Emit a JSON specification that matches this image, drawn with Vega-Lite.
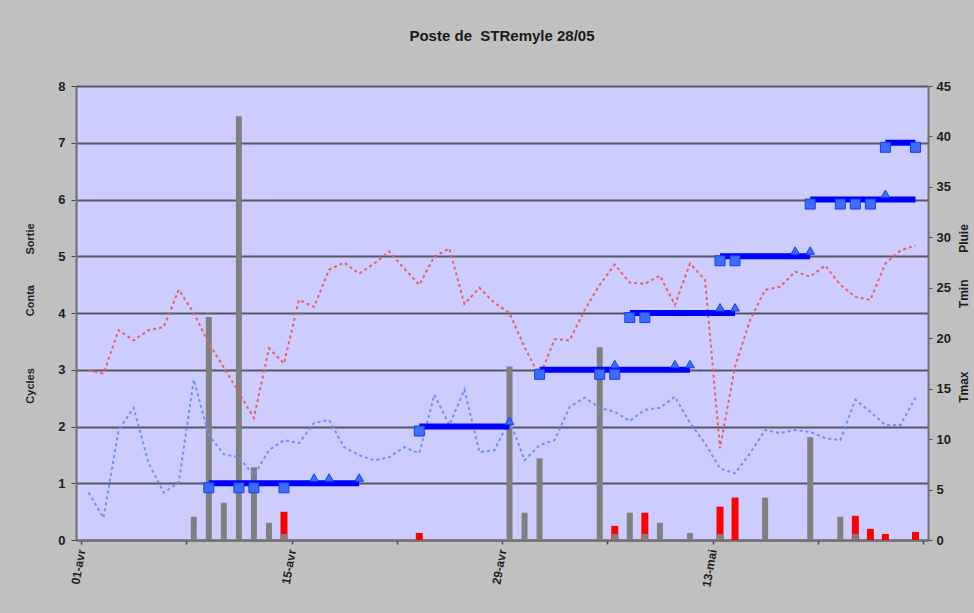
{
  "$schema": "https://vega.github.io/schema/vega-lite/v6.json",
  "width": 852,
  "height": 454,
  "autosize": {"type": "none"},
  "padding": {"left": 76, "top": 86, "right": 46, "bottom": 73},
  "background": "#c0c0c0",
  "config": {
    "view": {"fill": "#ccccff", "stroke": null},
    "font": "Liberation Sans",
    "axis": {"labelFont": "Liberation Sans", "titleFont": "Liberation Sans", "domainColor": "#6e6e6e", "domainWidth": 2, "tickColor": "#4a4a4a", "labelColor": "#1e1e1e", "titleColor": "#1e1e1e"}
  },
  "title": {"text": "Poste de\u00a0 STRemyle 28/05", "fontSize": 15, "fontWeight": "bold", "font": "Liberation Sans", "color": "#1a1a1a", "anchor": "middle", "offset": 36},
  "datasets": {
    "meteo": [
      {"date": "2010-04-01T12:00:00", "tmax": 16.8, "tmin": 4.7, "pluie": null, "rouge": null},
      {"date": "2010-04-02T12:00:00", "tmax": 16.5, "tmin": 2.2, "pluie": null, "rouge": null},
      {"date": "2010-04-03T12:00:00", "tmax": 20.8, "tmin": 10.9, "pluie": null, "rouge": null},
      {"date": "2010-04-04T12:00:00", "tmax": 19.8, "tmin": 13.1, "pluie": null, "rouge": null},
      {"date": "2010-04-05T12:00:00", "tmax": 20.8, "tmin": 7.6, "pluie": null, "rouge": null},
      {"date": "2010-04-06T12:00:00", "tmax": 21.1, "tmin": 4.7, "pluie": null, "rouge": null},
      {"date": "2010-04-07T12:00:00", "tmax": 24.8, "tmin": 5.7, "pluie": null, "rouge": null},
      {"date": "2010-04-08T12:00:00", "tmax": 22.5, "tmin": 15.9, "pluie": 2.3, "rouge": null},
      {"date": "2010-04-09T12:00:00", "tmax": 19.5, "tmin": 10.4, "pluie": 22.1, "rouge": null},
      {"date": "2010-04-10T12:00:00", "tmax": 17.1, "tmin": 8.5, "pluie": 3.7, "rouge": null},
      {"date": "2010-04-11T12:00:00", "tmax": 14.6, "tmin": 8.2, "pluie": 42.0, "rouge": null},
      {"date": "2010-04-12T12:00:00", "tmax": 12.1, "tmin": 6.4, "pluie": 7.2, "rouge": null},
      {"date": "2010-04-13T12:00:00", "tmax": 19.0, "tmin": 8.9, "pluie": 1.7, "rouge": null},
      {"date": "2010-04-14T12:00:00", "tmax": 17.5, "tmin": 9.9, "pluie": 0.6, "rouge": 2.8},
      {"date": "2010-04-15T12:00:00", "tmax": 23.8, "tmin": 9.6, "pluie": null, "rouge": null},
      {"date": "2010-04-16T12:00:00", "tmax": 23.1, "tmin": 11.6, "pluie": null, "rouge": null},
      {"date": "2010-04-17T12:00:00", "tmax": 26.8, "tmin": 11.9, "pluie": null, "rouge": null},
      {"date": "2010-04-18T12:00:00", "tmax": 27.5, "tmin": 9.2, "pluie": null, "rouge": null},
      {"date": "2010-04-19T12:00:00", "tmax": 26.4, "tmin": 8.4, "pluie": null, "rouge": null},
      {"date": "2010-04-20T12:00:00", "tmax": 27.4, "tmin": 7.9, "pluie": null, "rouge": null},
      {"date": "2010-04-21T12:00:00", "tmax": 28.6, "tmin": 8.2, "pluie": null, "rouge": null},
      {"date": "2010-04-22T12:00:00", "tmax": 26.9, "tmin": 9.2, "pluie": null, "rouge": null},
      {"date": "2010-04-23T12:00:00", "tmax": 25.3, "tmin": 8.6, "pluie": null, "rouge": 0.7},
      {"date": "2010-04-24T12:00:00", "tmax": 28.1, "tmin": 14.4, "pluie": null, "rouge": null},
      {"date": "2010-04-25T12:00:00", "tmax": 28.9, "tmin": 11.4, "pluie": null, "rouge": null},
      {"date": "2010-04-26T12:00:00", "tmax": 23.4, "tmin": 14.9, "pluie": null, "rouge": null},
      {"date": "2010-04-27T12:00:00", "tmax": 25.0, "tmin": 8.7, "pluie": null, "rouge": null},
      {"date": "2010-04-28T12:00:00", "tmax": 23.5, "tmin": 8.9, "pluie": null, "rouge": null},
      {"date": "2010-04-29T12:00:00", "tmax": 22.5, "tmin": 11.9, "pluie": 17.2, "rouge": null},
      {"date": "2010-04-30T12:00:00", "tmax": 19.1, "tmin": 7.9, "pluie": 2.7, "rouge": null},
      {"date": "2010-05-01T12:00:00", "tmax": 16.2, "tmin": 9.4, "pluie": 8.1, "rouge": null},
      {"date": "2010-05-02T12:00:00", "tmax": 19.9, "tmin": 9.9, "pluie": null, "rouge": null},
      {"date": "2010-05-03T12:00:00", "tmax": 19.8, "tmin": 13.2, "pluie": null, "rouge": null},
      {"date": "2010-05-04T12:00:00", "tmax": 22.8, "tmin": 14.1, "pluie": null, "rouge": null},
      {"date": "2010-05-05T12:00:00", "tmax": 25.3, "tmin": 13.1, "pluie": 19.1, "rouge": null},
      {"date": "2010-05-06T12:00:00", "tmax": 27.3, "tmin": 12.7, "pluie": 0.6, "rouge": 1.4},
      {"date": "2010-05-07T12:00:00", "tmax": 25.5, "tmin": 11.8, "pluie": 2.7, "rouge": null},
      {"date": "2010-05-08T12:00:00", "tmax": 25.4, "tmin": 12.9, "pluie": 0.6, "rouge": 2.7},
      {"date": "2010-05-09T12:00:00", "tmax": 26.2, "tmin": 13.1, "pluie": 1.7, "rouge": null},
      {"date": "2010-05-10T12:00:00", "tmax": 23.3, "tmin": 14.2, "pluie": null, "rouge": null},
      {"date": "2010-05-11T12:00:00", "tmax": 27.4, "tmin": 11.6, "pluie": 0.7, "rouge": null},
      {"date": "2010-05-12T12:00:00", "tmax": 25.8, "tmin": 9.6, "pluie": null, "rouge": null},
      {"date": "2010-05-13T12:00:00", "tmax": 9.1, "tmin": 7.1, "pluie": 0.6, "rouge": 3.3},
      {"date": "2010-05-14T12:00:00", "tmax": 17.2, "tmin": 6.6, "pluie": null, "rouge": 4.2},
      {"date": "2010-05-15T12:00:00", "tmax": 21.8, "tmin": 8.6, "pluie": null, "rouge": null},
      {"date": "2010-05-16T12:00:00", "tmax": 24.8, "tmin": 10.9, "pluie": 4.2, "rouge": null},
      {"date": "2010-05-17T12:00:00", "tmax": 25.1, "tmin": 10.6, "pluie": null, "rouge": null},
      {"date": "2010-05-18T12:00:00", "tmax": 26.6, "tmin": 10.9, "pluie": null, "rouge": null},
      {"date": "2010-05-19T12:00:00", "tmax": 26.1, "tmin": 10.7, "pluie": 10.2, "rouge": null},
      {"date": "2010-05-20T12:00:00", "tmax": 27.2, "tmin": 10.1, "pluie": null, "rouge": null},
      {"date": "2010-05-21T12:00:00", "tmax": 25.3, "tmin": 9.9, "pluie": 2.3, "rouge": null},
      {"date": "2010-05-22T12:00:00", "tmax": 24.1, "tmin": 13.9, "pluie": 0.6, "rouge": 2.4},
      {"date": "2010-05-23T12:00:00", "tmax": 23.8, "tmin": 12.7, "pluie": null, "rouge": 1.1},
      {"date": "2010-05-24T12:00:00", "tmax": 27.4, "tmin": 11.4, "pluie": null, "rouge": 0.6},
      {"date": "2010-05-25T12:00:00", "tmax": 28.7, "tmin": 11.4, "pluie": null, "rouge": null},
      {"date": "2010-05-26T12:00:00", "tmax": 29.2, "tmin": 14.1, "pluie": null, "rouge": 0.8}
    ],
    "cycles": [
      {"date": "2010-04-09T12:00:00", "cycle": 1, "niveau": 1},
      {"date": "2010-04-19T12:00:00", "cycle": 1, "niveau": 1},
      {"date": "2010-04-23T12:00:00", "cycle": 2, "niveau": 2},
      {"date": "2010-04-29T12:00:00", "cycle": 2, "niveau": 2},
      {"date": "2010-05-01T12:00:00", "cycle": 3, "niveau": 3},
      {"date": "2010-05-11T12:00:00", "cycle": 3, "niveau": 3},
      {"date": "2010-05-07T12:00:00", "cycle": 4, "niveau": 4},
      {"date": "2010-05-14T12:00:00", "cycle": 4, "niveau": 4},
      {"date": "2010-05-13T12:00:00", "cycle": 5, "niveau": 5},
      {"date": "2010-05-19T12:00:00", "cycle": 5, "niveau": 5},
      {"date": "2010-05-19T12:00:00", "cycle": 6, "niveau": 6},
      {"date": "2010-05-26T12:00:00", "cycle": 6, "niveau": 6},
      {"date": "2010-05-24T12:00:00", "cycle": 7, "niveau": 7},
      {"date": "2010-05-26T12:00:00", "cycle": 7, "niveau": 7}
    ],
    "conta": [
      {"date": "2010-04-09T12:00:00", "valeur": 0.92},
      {"date": "2010-04-11T12:00:00", "valeur": 0.92},
      {"date": "2010-04-12T12:00:00", "valeur": 0.92},
      {"date": "2010-04-14T12:00:00", "valeur": 0.92},
      {"date": "2010-04-23T12:00:00", "valeur": 1.92},
      {"date": "2010-05-01T12:00:00", "valeur": 2.92},
      {"date": "2010-05-05T12:00:00", "valeur": 2.92},
      {"date": "2010-05-06T12:00:00", "valeur": 2.92},
      {"date": "2010-05-07T12:00:00", "valeur": 3.92},
      {"date": "2010-05-08T12:00:00", "valeur": 3.92},
      {"date": "2010-05-13T12:00:00", "valeur": 4.92},
      {"date": "2010-05-14T12:00:00", "valeur": 4.92},
      {"date": "2010-05-19T12:00:00", "valeur": 5.92},
      {"date": "2010-05-21T12:00:00", "valeur": 5.92},
      {"date": "2010-05-22T12:00:00", "valeur": 5.92},
      {"date": "2010-05-23T12:00:00", "valeur": 5.92},
      {"date": "2010-05-24T12:00:00", "valeur": 6.92},
      {"date": "2010-05-26T12:00:00", "valeur": 6.92}
    ],
    "sortie": [
      {"date": "2010-04-16T12:00:00", "valeur": 1.1},
      {"date": "2010-04-17T12:00:00", "valeur": 1.1},
      {"date": "2010-04-19T12:00:00", "valeur": 1.1},
      {"date": "2010-04-29T12:00:00", "valeur": 2.1},
      {"date": "2010-05-06T12:00:00", "valeur": 3.1},
      {"date": "2010-05-10T12:00:00", "valeur": 3.1},
      {"date": "2010-05-11T12:00:00", "valeur": 3.1},
      {"date": "2010-05-13T12:00:00", "valeur": 4.1},
      {"date": "2010-05-14T12:00:00", "valeur": 4.1},
      {"date": "2010-05-18T12:00:00", "valeur": 5.1},
      {"date": "2010-05-19T12:00:00", "valeur": 5.1},
      {"date": "2010-05-24T12:00:00", "valeur": 6.1}
    ]
  },
  "encoding": {
    "x": {
      "field": "date",
      "type": "temporal",
      "scale": {"domain": [{"year": 2010, "month": 4, "date": 1}, {"year": 2010, "month": 5, "date": 27}]},
      "axis": {
        "title": null,
        "values": [
          {"year": 2010, "month": 4, "date": 1},
          {"year": 2010, "month": 4, "date": 8},
          {"year": 2010, "month": 4, "date": 15},
          {"year": 2010, "month": 4, "date": 22},
          {"year": 2010, "month": 4, "date": 29},
          {"year": 2010, "month": 5, "date": 6},
          {"year": 2010, "month": 5, "date": 13},
          {"year": 2010, "month": 5, "date": 20},
          {"year": 2010, "month": 5, "date": 27}
        ],
        "labelExpr": "date(datum.value)==1 && month(datum.value)==3 ? '01-avr' : date(datum.value)==15 ? '15-avr' : date(datum.value)==29 ? '29-avr' : date(datum.value)==13 ? '13-mai' : ''",
        "labelAngle": -80,
        "labelFontSize": 12,
        "labelFontWeight": "bold",
        "labelPadding": 5,
        "tickSize": 4,
        "tickWidth": 1.5,
        "grid": false,
        "labelOverlap": false
      }
    }
  },
  "layer": [
    {
      "data": {"name": "meteo"},
      "encoding": {
        "y": {
          "type": "quantitative",
          "scale": {"domain": [0, 45], "nice": false},
          "axis": {
            "orient": "right",
            "values": [0, 5, 10, 15, 20, 25, 30, 35, 40, 45],
            "grid": false,
            "title": "Tmax\u00a0\u00a0\u00a0\u00a0\u00a0\u00a0\u00a0\u00a0\u00a0\u00a0\u00a0\u00a0\u00a0\u00a0\u00a0\u00a0\u00a0\u00a0\u00a0Tmin\u00a0\u00a0\u00a0\u00a0\u00a0\u00a0\u00a0\u00a0Pluie",
            "titleAngle": 270,
            "titleBaseline": "top",
            "titleFontSize": 12,
            "titleFontWeight": "bold",
            "titlePadding": 8,
            "labelFontSize": 13,
            "labelFontWeight": "bold",
            "labelPadding": 4,
            "tickSize": 4
          }
        }
      },
      "layer": [
        {"mark": {"type": "bar", "color": "#ff0000", "width": 7}, "encoding": {"y": {"field": "rouge"}}},
        {"mark": {"type": "bar", "color": "#808080", "width": 6}, "encoding": {"y": {"field": "pluie"}}},
        {"mark": {"type": "line", "color": "#e8605e", "strokeWidth": 2, "strokeDash": [3, 3]}, "encoding": {"y": {"field": "tmax"}}},
        {"mark": {"type": "line", "color": "#6d8ff5", "strokeWidth": 2, "strokeDash": [3, 3]}, "encoding": {"y": {"field": "tmin"}}}
      ]
    },
    {
      "encoding": {
        "y": {
          "type": "quantitative",
          "scale": {"domain": [0, 8], "nice": false},
          "axis": {
            "orient": "left",
            "values": [0, 1, 2, 3, 4, 5, 6, 7, 8],
            "grid": true,
            "gridColor": "#585860",
            "gridWidth": 1.8,
            "gridOpacity": 1,
            "title": "Cycles\u00a0\u00a0\u00a0\u00a0\u00a0\u00a0\u00a0\u00a0\u00a0\u00a0\u00a0\u00a0\u00a0\u00a0\u00a0\u00a0\u00a0Conta\u00a0\u00a0\u00a0\u00a0\u00a0\u00a0\u00a0\u00a0\u00a0\u00a0Sortie",
            "titleFontSize": 11,
            "titleFontWeight": "bold",
            "titlePadding": 22,
            "labelFontSize": 13,
            "labelFontWeight": "bold",
            "labelPadding": 6,
            "tickSize": 5
          }
        }
      },
      "layer": [
        {
          "data": {"name": "cycles"},
          "mark": {"type": "line", "color": "#0000ff", "strokeWidth": 6},
          "encoding": {"y": {"field": "niveau"}, "detail": {"field": "cycle", "type": "nominal"}}
        },
        {
          "data": {"name": "conta"},
          "mark": {"type": "point", "shape": "square", "filled": true, "size": 100, "fill": "#3d6dff", "stroke": "#1a3cf0", "strokeWidth": 1, "opacity": 1},
          "encoding": {"y": {"field": "valeur"}}
        },
        {
          "data": {"name": "sortie"},
          "mark": {"type": "point", "shape": "triangle-up", "filled": true, "size": 75, "fill": "#3d6dff", "stroke": "#1a3cf0", "strokeWidth": 1, "opacity": 1},
          "encoding": {"y": {"field": "valeur"}}
        }
      ]
    }
  ],
  "resolve": {"scale": {"y": "independent"}}
}
